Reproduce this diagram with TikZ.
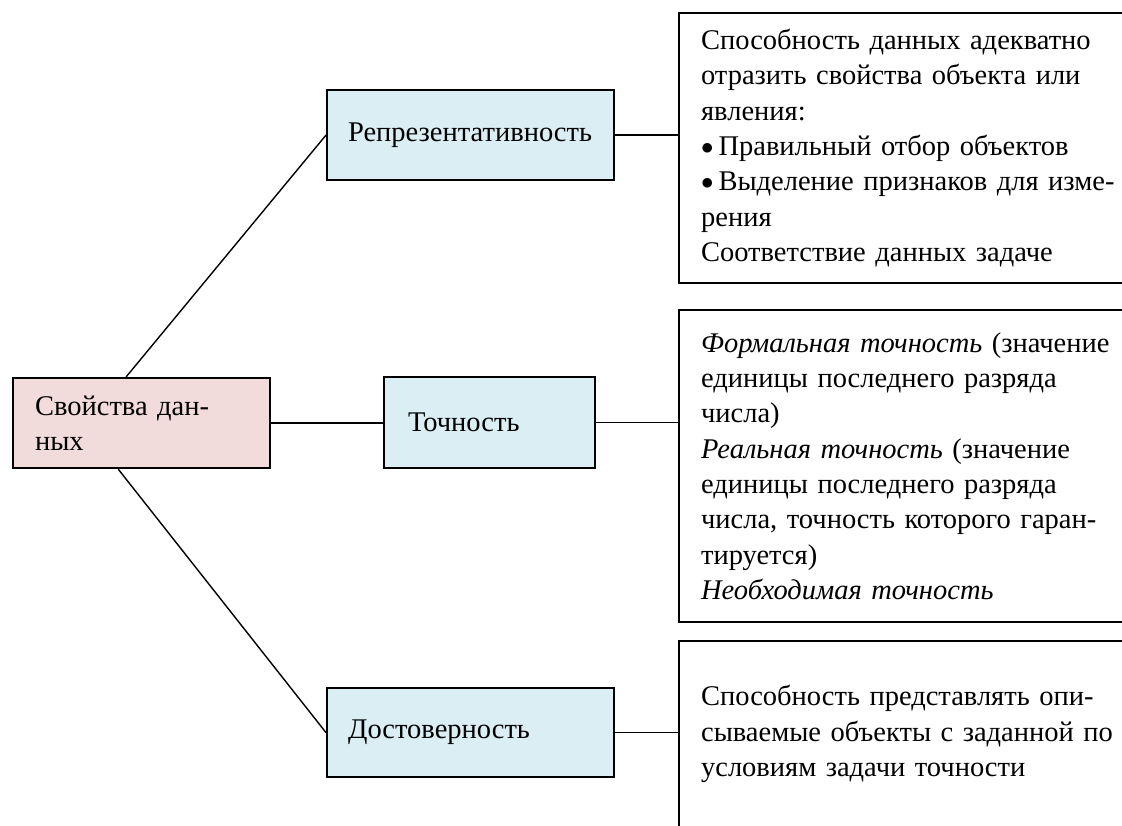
\documentclass[tikz,border=0pt]{standalone}
\usepackage{fontspec}
\setmainfont{Liberation Serif}
\usetikzlibrary{calc}
\definecolor{pinkfill}{HTML}{F2DCDB}
\definecolor{bluefill}{HTML}{DAEEF3}
\newcommand{\mybul}{\raisebox{1pt}{$\bullet$}\hspace{5pt}}
\begin{document}
\begin{tikzpicture}[x=1pt,y=-1pt,
  box/.style={draw=black, line width=2.2pt, rectangle, inner ysep=0pt, anchor=north west, align=left, font=\fontsize{28.5}{35.3}\selectfont},
  rootbox/.style={box, fill=pinkfill},
  midbox/.style={box, fill=bluefill},
  infobox/.style={box, fill=white, inner xsep=22pt, text width=440pt},
  conn/.style={line width=1.4pt}]
\useasboundingbox (0,0) rectangle (1122,825);
\clip (0,0) rectangle (1122,825);
\node[rootbox, minimum width=257pt, minimum height=90pt, inner xsep=22pt, text width=213pt] (L) at (12,377) {Свойства дан-\\ных};
\node[midbox, minimum width=287pt, minimum height=90pt, inner xsep=21pt, text width=245pt] (R1) at (326,89) {\raisebox{-8pt}{Репрезентативность}};
\node[midbox, minimum width=211pt, minimum height=91pt, inner xsep=24pt, text width=163pt] (T1) at (383,376) {\raisebox{-5pt}{Точность}};
\node[midbox, minimum width=287pt, minimum height=89pt, inner xsep=21pt, text width=245pt] (D1) at (326,687) {\raisebox{-5pt}{Достоверность}};
\node[infobox, minimum height=270pt] (B1) at (678,12) {Способность данных адекватно\\отразить свойства объекта или\\явления:\\\mybul Правильный отбор объектов\\\mybul Выделение признаков для изме-\\рения\\Соответствие данных задаче};
\node[infobox, minimum height=312pt] (B2) at (678,309) {\textit{Формальная точность} (значение\\единицы последнего разряда\\числа)\\\textit{Реальная точность} (значение\\единицы последнего разряда\\числа, точность которого гаран-\\тируется)\\\textit{Необходимая точность}};
\node[infobox, minimum height=186pt] (B3) at (678,640) {Способность представлять опи-\\сываемые объекты с заданной по\\условиям задачи точности};
\draw[conn] ($(L.north west)!0.44!(L.north east)$) -- (R1.west);
\draw[conn] ($(L.south west)!0.41!(L.south east)$) -- (D1.west);
\draw[conn] (L.east) -- (L.east -| T1.west);
\draw[conn] (R1.east) -- (R1.east -| B1.west);
\draw[conn] (T1.east) -- (T1.east -| B2.west);
\draw[conn] (D1.east) -- (D1.east -| B3.west);
\end{tikzpicture}
\end{document}
